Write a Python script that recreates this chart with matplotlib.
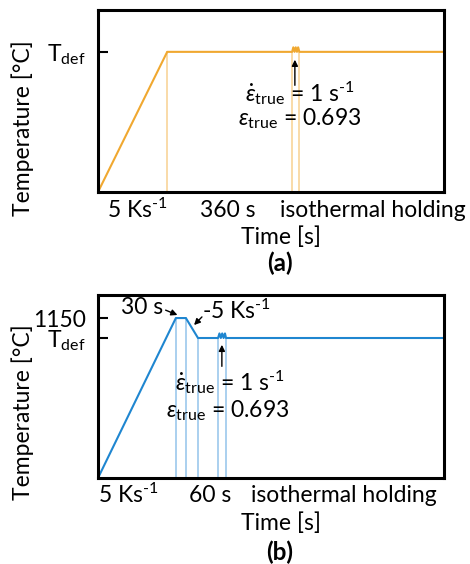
import matplotlib
matplotlib.use("Agg")
import matplotlib.pyplot as plt
from matplotlib import transforms

plt.rcParams['font.family'] = ['Lato', 'DejaVu Sans']
plt.rcParams['mathtext.fontset'] = 'custom'
plt.rcParams['mathtext.rm'] = 'Lato'
plt.rcParams['mathtext.it'] = 'Lato:italic'
plt.rcParams['mathtext.bf'] = 'Lato:bold'
plt.rcParams['mathtext.fallback'] = 'stixsans'

# Schematic temperature-time routes (arbitrary time / temperature units)
time_a = [0, 20, 56.1, 56.45, 56.8, 57.15, 57.5, 57.85, 58.2, 100]
temp_a = [0, 77, 77, 79.5, 77, 79.5, 77, 79.5, 77, 77]
marks_a = [20, 56.1, 58.2]

time_b = [0, 22.5, 25.4, 28.9, 34.7, 35.1, 35.5, 35.9, 36.3, 36.7, 37.0, 100]
temp_b = [0, 87.4, 87.4, 76.5, 76.5, 79.0, 76.5, 79.0, 76.5, 79.0, 76.5, 76.5]
marks_b = [22.5, 25.4, 28.9, 34.7, 37.0]

yticks_a = [77]
yticklabels_a = [r'T$_{\mathrm{def}}$']
yticks_b = [87.4, 76.5]
yticklabels_b = ['1150', r'T$_{\mathrm{def}}$']

seg_labels_a = [(11.3, r'5 Ks$^{\text{-1}}$', 'center'), (37.6, '360 s', 'center'),
                (79.5, 'isothermal holding', 'center')]
seg_labels_b = [(0.0, r'5 Ks$^{\text{-1}}$', 'left'), (32.4, '60 s', 'center'),
                (71.1, 'isothermal holding', 'center')]

ORANGE = '#F0A830'
ORANGE_LIGHT = '#F8D49A'
BLUE = '#1F86D0'
BLUE_LIGHT = '#9CC8EC'
FS = 16.5

fig = plt.figure(figsize=(4.70, 5.64), dpi=100)
ax_a = fig.add_axes([98 / 470, 1 - 192 / 564, 346 / 470, 182 / 564])
ax_b = fig.add_axes([98 / 470, 1 - 478 / 564, 346 / 470, 183 / 564])

rate_label = r'$\dot{\varepsilon}_{\mathrm{true}}$ = 1 s$^{\text{-1}}$'
strain_label = r'$\varepsilon_{\mathrm{true}}$ = 0.693'


def style(ax, times, temps, marks, color, light, yt, ytl, seg_labels, seg_y):
    ax.set_xlim(0, 100)
    ax.set_ylim(0, 100)
    for xm in marks:
        top = temps[times.index(xm)]
        ax.plot([xm, xm], [0, top], color=light, lw=1.2, zorder=1)
    ax.plot(times, temps, color=color, lw=1.5, zorder=2)
    for s in ax.spines.values():
        s.set_linewidth(2.2)
    ax.set_xticks([])
    ax.set_yticks(yt)
    ax.set_yticklabels(ytl, fontsize=FS)
    ax.tick_params(axis='y', direction='in', length=7.5, width=1.5, pad=9)
    trans = transforms.blended_transform_factory(ax.transData, ax.transAxes)
    for x, lab, ha in seg_labels:
        ax.text(x, seg_y, lab, transform=trans, ha=ha, va='center', fontsize=FS)


style(ax_a, time_a, temp_a, marks_a, ORANGE, ORANGE_LIGHT,
      yticks_a, yticklabels_a, seg_labels_a, -0.099)
style(ax_b, time_b, temp_b, marks_b, BLUE, BLUE_LIGHT,
      yticks_b, yticklabels_b, seg_labels_b, -0.093)

arrow = dict(arrowstyle='-|>', color='black', lw=1.0, mutation_scale=9)

# (a) deformation step
ax_a.annotate('', xy=(56.9, 74.2), xytext=(56.9, 57.1), arrowprops=arrow)
ax_a.text(58.4, 54.4, rate_label, ha='center', va='center', fontsize=FS)
ax_a.text(58.4, 40.2, strain_label, ha='center', va='center', fontsize=FS)

# (b) solution treatment, cooling and deformation step
ax_b.annotate('', xy=(35.8, 74.3), xytext=(35.8, 59.5), arrowprops=arrow)
ax_b.text(38.2, 52.2, rate_label, ha='center', va='center', fontsize=FS)
ax_b.text(37.6, 36.8, strain_label, ha='center', va='center', fontsize=FS)
ax_b.annotate('', xy=(23.7, 88.5), xytext=(18.8, 92.3), arrowprops=arrow)
ax_b.text(12.7, 93.4, '30 s', ha='center', va='center', fontsize=FS)
ax_b.annotate('', xy=(27.2, 82.5), xytext=(30.6, 89.1), arrowprops=arrow)
ax_b.text(30.1, 91.3, r'-5 Ks$^{\text{-1}}$', ha='left', va='center', fontsize=FS)

for yl, yt, yp, panel in [(0.773, 1 - 237 / 564, 1 - 263 / 564, '(a)'),
                          (0.270, 1 - 523 / 564, 1 - 552 / 564, '(b)')]:
    fig.text(23 / 470, yl, 'Temperature [°C]', rotation=90, ha='center',
             va='center', fontsize=FS)
    fig.text(281 / 470, yt, 'Time [s]', ha='center', va='center', fontsize=FS)
    fig.text(280 / 470, yp, panel, ha='center', va='center', fontsize=FS + 1,
             fontweight='bold')

fig.savefig('out.png', dpi=100)
